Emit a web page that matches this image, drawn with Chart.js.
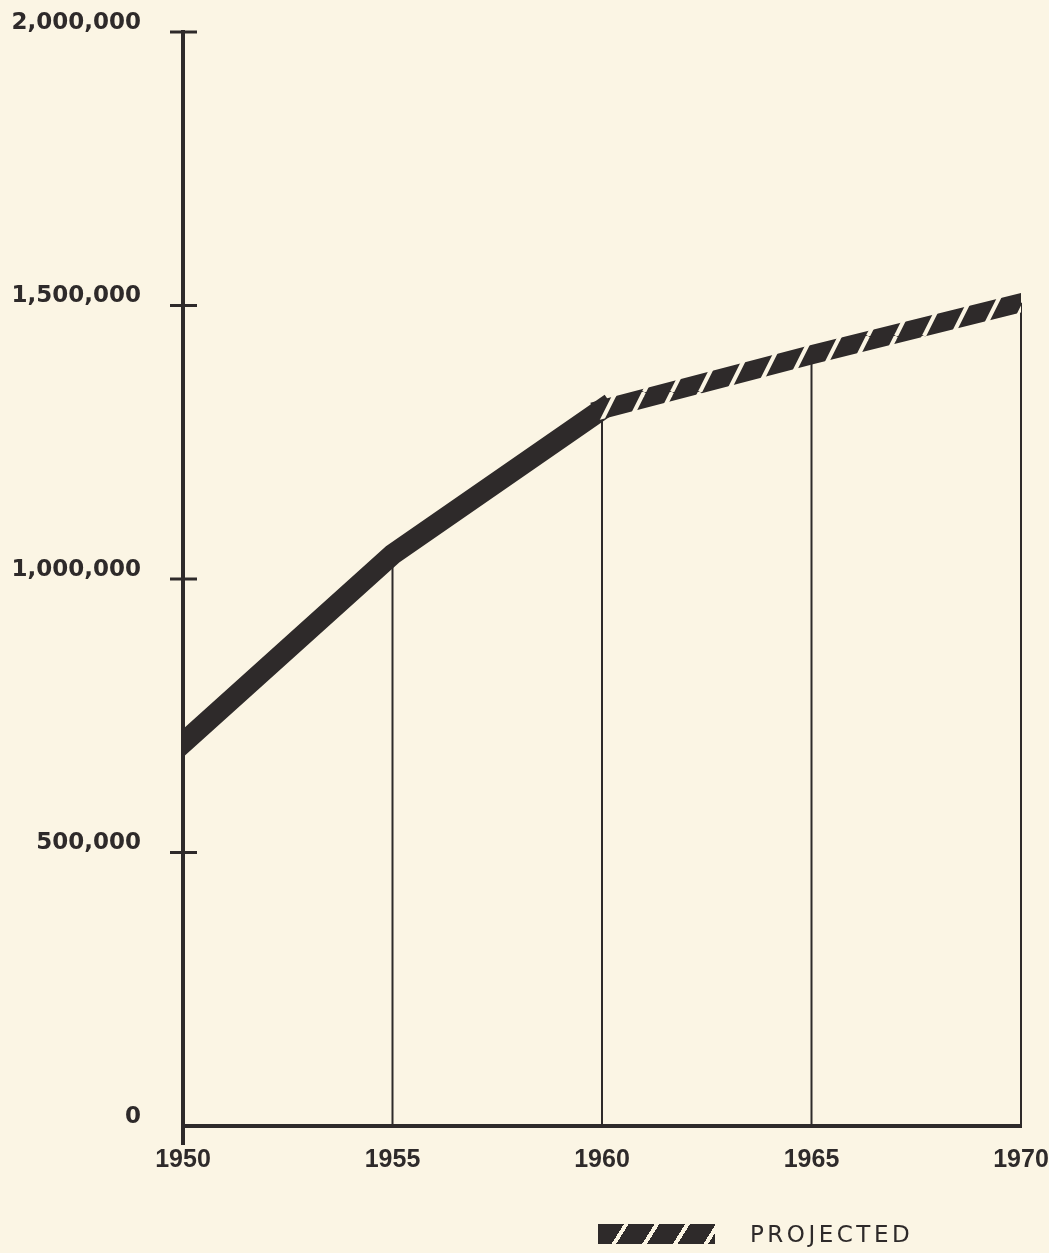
<!DOCTYPE html>
<html>
<meta charset="UTF-8">
<head>
    <title>1950 - 1970</title>
    <script src="https://cdn.jsdelivr.net/npm/chart.js"></script>
    <style>
        body { margin: 0; background: #fbf5e4; }
        #wrap { position: relative; width: 1049px; height: 1253px; }
        #legend { position: absolute; left: 598px; top: 1221px; display: flex; align-items: center; }
        #swatch {
            width: 117px; height: 20px;
            background: repeating-linear-gradient(122deg, #2e2a2a 0 22px, #fbf5e4 22px 26px);
        }
        #legend span {
            margin-left: 35px; font: 23px "DejaVu Sans", sans-serif;
            letter-spacing: 3.5px; color: #2e2a2a;
        }
    </style>
</head>
<body>
<div id="wrap">
    <canvas id="chart" width="1049" height="1253"></canvas>
    <div id="legend"><div id="swatch"></div><span>PROJECTED</span></div>
</div>

<script>
    // данные графика
    const years = [1950, 1955, 1960, 1965, 1970];
    const population = [700000, 1045000, 1310000, 1410000, 1505000];
    const projectedFrom = 2; // с 1960 года - прогноз
    const yTicks = [0, 500000, 1000000, 1500000, 2000000];
    const yLabels = ['0', '500,000', '1,000,000', '1,500,000', '2,000,000'];
    const xLabels = ['1950', '1955', '1960', '1965', '1970'];

    const INK = '#2e2a2a';
    const PAPER = '#fbf5e4';

    // штриховка для прогнозной части
    function makeHatch() {
        const c = document.createElement('canvas');
        c.width = 28; c.height = 56;
        const g = c.getContext('2d');
        g.fillStyle = INK;
        g.fillRect(0, 0, 28, 56);
        g.strokeStyle = PAPER;
        g.lineWidth = 4;
        for (const dx of [-28, 0, 28]) {
            g.beginPath();
            g.moveTo(dx, 56);
            g.lineTo(dx + 28, 0);
            g.stroke();
        }
        return g.createPattern(c, 'repeat');
    }
    const hatch = makeHatch();

    // вертикальные линии от графика к оси и засечки на оси Y
    const axisMarks = {
        id: 'axisMarks',
        beforeDatasetsDraw(chart) {
            const ctx = chart.ctx;
            const meta = chart.getDatasetMeta(0);
            const base = chart.scales.y.getPixelForValue(0);
            ctx.save();
            ctx.strokeStyle = INK;
            ctx.lineWidth = 2;
            meta.data.forEach((pt, i) => {
                if (i === 0) return;
                ctx.beginPath();
                ctx.moveTo(pt.x, pt.y);
                ctx.lineTo(pt.x, base);
                ctx.stroke();
            });
            ctx.restore();
        },
        afterDraw(chart) {
            const ctx = chart.ctx;
            const ys = chart.scales.y;
            const x0 = chart.scales.x.getPixelForValue(years[0]);
            const base = ys.getPixelForValue(0);
            ctx.save();
            ctx.strokeStyle = INK;
            ctx.lineWidth = 3;
            yTicks.forEach(v => {
                if (v === 0) return;
                const y = ys.getPixelForValue(v);
                ctx.beginPath();
                ctx.moveTo(x0 - 13, y);
                ctx.lineTo(x0 + 14, y);
                ctx.stroke();
            });
            ctx.lineWidth = 4;
            ctx.beginPath();
            ctx.moveTo(x0, base);
            ctx.lineTo(x0, base + 19);
            ctx.stroke();
            ctx.restore();
        }
    };

    Chart.defaults.font.family = '"DejaVu Sans", sans-serif';
    Chart.defaults.color = INK;

    new Chart(document.getElementById('chart').getContext('2d'), {
        type: 'line',
        data: {
            datasets: [{
                data: years.map((x, i) => ({ x: x, y: population[i] })),
                borderColor: INK,
                borderWidth: 21,
                borderCapStyle: 'square',
                borderJoinStyle: 'miter',
                pointRadius: 0,
                tension: 0,
                clip: 0,
                segment: {
                    borderColor: c => c.p0DataIndex >= projectedFrom ? hatch : undefined,
                    borderWidth: c => c.p0DataIndex >= projectedFrom ? 19 : undefined
                }
            }]
        },
        options: {
            responsive: false,
            animation: false,
            events: [],
            layout: { padding: { top: 32, right: 28, left: 0, bottom: 0 } },
            plugins: { legend: { display: false }, tooltip: { enabled: false } },
            scales: {
                x: {
                    type: 'linear',
                    min: years[0],
                    max: years[years.length - 1],
                    afterBuildTicks: s => { s.ticks = years.map(v => ({ value: v })); },
                    afterFit: s => { s.height = 127; s.paddingLeft = 0; s.paddingRight = 0; },
                    grid: { drawOnChartArea: false, drawTicks: false },
                    border: { color: INK, width: 4 },
                    ticks: {
                        padding: 19,
                        maxRotation: 0,
                        font: { family: '"Liberation Sans", sans-serif', size: 25, weight: 'bold' },
                        callback: v => xLabels[years.indexOf(v)]
                    }
                },
                y: {
                    min: 0,
                    max: 2000000,
                    afterBuildTicks: s => { s.ticks = yTicks.map(v => ({ value: v })); },
                    afterFit: s => { s.width = 183; s.paddingTop = 0; s.paddingBottom = 0; },
                    grid: { drawOnChartArea: false, drawTicks: false },
                    border: { color: INK, width: 4 },
                    ticks: {
                        padding: 42,
                        labelOffset: -9,
                        font: { size: 23, weight: 'bold' },
                        callback: v => yLabels[yTicks.indexOf(v)]
                    }
                }
            }
        },
        plugins: [axisMarks]
    });
</script>
</body>
</html>
